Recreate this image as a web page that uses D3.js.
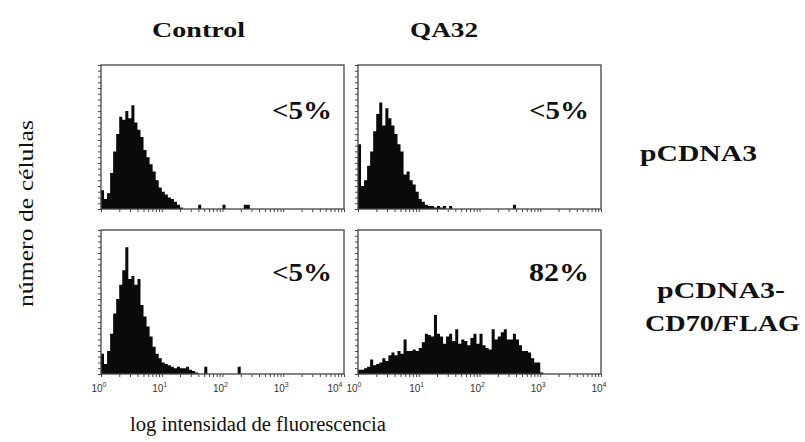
<script src="https://d3js.org/d3.v7.min.js"></script>
<style>
  body { margin: 0; background: #fff; }
  .serif { font-family: "Liberation Serif", "Times New Roman", serif; fill: #111; }
  .tick text { display: none; }
  .axis path, .axis line { stroke: #444; }
</style>
<svg width="805" height="442"></svg>
<script>
  // column / row titles
  var colTitles = ["Control", "QA32"];
  var rowTitles = [["pCDNA3"], ["pCDNA3-", "CD70/FLAG"]];
  var percents = [["<5%", "<5%"], ["<5%", "82%"]];
  var xTickLabels = ["0", "1", "2", "3", "4"]; // exponents of 10

  // histogram counts, bins of 0.05 log decade starting at 10^0
  var binWidth = 0.05;
  var ctrlPcdna3 = [13, 7, 11, 25, 40, 52, 64, 62, 68, 63, 72, 60, 55, 50, 41, 36, 31, 26, 20, 15,
    12, 10, 8, 7, 5, 3, 1, 0, 0, 0, 0, 0, 3, 0, 0, 0, 0, 0, 0, 0, 3, 0, 0, 0, 0, 0, 0, 3, 3];
  var qa32Pcdna3 = [45, 16, 20, 30, 40, 54, 66, 74, 58, 70, 63, 58, 52, 45, 40, 24, 26, 20, 17, 12,
    7, 5, 3, 2, 2, 1, 2, 1, 2, 0, 2, 0, 0, 0, 0, 0, 0, 0, 0, 0, 0, 0, 0, 0, 0, 0, 0, 0, 0, 0, 0, 3];
  var ctrlCd70 = [14, 7, 16, 28, 42, 52, 62, 72, 88, 66, 68, 62, 66, 48, 40, 33, 26, 19, 14, 11,
    8, 7, 6, 5, 4, 5, 4, 4, 5, 3, 2, 1, 0, 0, 5, 0, 0, 0, 0, 0, 0, 0, 0, 0, 0, 5];
  var qa32Cd70 = [3, 3, 4, 5, 10, 6, 7, 8, 11, 9, 13, 15, 13, 16, 14, 24, 16, 16, 17, 16,
    18, 22, 28, 27, 26, 41, 28, 26, 21, 26, 28, 23, 31, 21, 24, 23, 20, 25, 28, 21,
    28, 20, 18, 17, 31, 24, 26, 29, 31, 24, 24, 28, 24, 20, 16, 16, 15, 11, 8, 8, 1];

  var panels = [[ctrlPcdna3, qa32Pcdna3], [ctrlCd70, qa32Cd70]];

  var svg = d3.select("svg");
  var colX = [101, 358], rowY = [65, 230], pw = 243, ph = 144;

  var x = d3.scaleLog().domain([1, 1e4]).range([0, pw]);
  var y = d3.scaleLinear().domain([0, 100]).range([ph, 0]);

  var minorTicks = [];
  for (var e = 0; e < 4; e++) {
    for (var m = 1; m < 10; m++) minorTicks.push(m * Math.pow(10, e));
  }
  minorTicks.push(1e4);

  var area = d3
    .area()
    .curve(d3.curveStepAfter)
    .x(function (d) { return x(Math.pow(10, d.lo)); })
    .y0(ph)
    .y1(function (d) { return y(d.v); });

  panels.forEach(function (row, r) {
    row.forEach(function (counts, c) {
      var g = svg
        .append("g")
        .attr("transform", "translate(" + colX[c] + "," + rowY[r] + ")");

      var pts = counts.map(function (v, i) { return { lo: i * binWidth, v: v }; });
      pts.push({ lo: counts.length * binWidth, v: 0 });

      g.append("path").attr("d", area(pts)).attr("fill", "#0a0a0a");

      g.append("rect")
        .attr("width", pw)
        .attr("height", ph)
        .attr("fill", "none")
        .attr("stroke", "#444")
        .attr("stroke-width", 1.3);

      g.append("g")
        .attr("class", "axis")
        .call(d3.axisLeft(y).tickValues(d3.range(0, 101, 4)).tickSize(3))
        .select(".domain").remove();

      g.append("g")
        .attr("class", "axis")
        .attr("transform", "translate(0," + ph + ")")
        .call(d3.axisBottom(x).tickValues(minorTicks).tickSize(3))
        .select(".domain").remove();

      g.append("text")
        .attr("class", "serif")
        .attr("x", pw - 12)
        .attr("y", r === 0 ? 54 : 51)
        .attr("text-anchor", "end")
        .attr("textLength", 60)
        .attr("lengthAdjust", "spacingAndGlyphs")
        .style("font", "bold 25px 'Liberation Serif', serif")
        .text(percents[r][c]);

      if (r === 1) {
        xTickLabels.forEach(function (p, k) {
          // the two panels share an edge: nudge the meeting labels apart
          var dx = -2;
          if (c === 0 && k === xTickLabels.length - 1) dx = -9;
          if (c === 1 && k === 0) dx = -4;
          var t = g.append("text")
            .attr("x", x(Math.pow(10, +p)) + dx)
            .attr("y", ph + 18)
            .attr("text-anchor", "middle")
            .style("font", "10px 'Liberation Sans', Arial, sans-serif")
            .style("fill", "#333");
          t.append("tspan").text("10");
          t.append("tspan").attr("dy", -5).style("font-size", "7px").text(p);
        });
      }
    });
  });

  // column titles
  var titleX = [152, 410], titleLen = [93, 68];
  colTitles.forEach(function (t, i) {
    svg.append("text")
      .attr("class", "serif")
      .attr("x", titleX[i])
      .attr("y", 37)
      .attr("textLength", titleLen[i])
      .attr("lengthAdjust", "spacingAndGlyphs")
      .style("font-size", "22px")
      .style("font-weight", "bold")
      .text(t);
  });

  // row titles
  var rowLines = [[{ x: 640, y: 161, len: 117 }], [{ x: 657, y: 298, len: 128 }, { x: 645, y: 331, len: 155 }]];
  rowTitles.forEach(function (lines, i) {
    lines.forEach(function (t, j) {
      var p = rowLines[i][j];
      svg.append("text")
        .attr("class", "serif")
        .attr("x", p.x)
        .attr("y", p.y)
        .attr("textLength", p.len)
        .attr("lengthAdjust", "spacingAndGlyphs")
        .style("font-size", "24px")
        .style("font-weight", "bold")
        .text(t);
    });
  });

  // axis titles
  svg.append("text")
    .attr("class", "serif")
    .attr("transform", "translate(33,307) rotate(-90)")
    .attr("textLength", 187)
    .attr("lengthAdjust", "spacingAndGlyphs")
    .style("font-size", "20px")
    .text("número de células");

  svg.append("text")
    .attr("class", "serif")
    .attr("x", 130)
    .attr("y", 431)
    .attr("textLength", 256)
    .attr("lengthAdjust", "spacingAndGlyphs")
    .style("font-size", "20px")
    .text("log intensidad de fluorescencia");
</script>
